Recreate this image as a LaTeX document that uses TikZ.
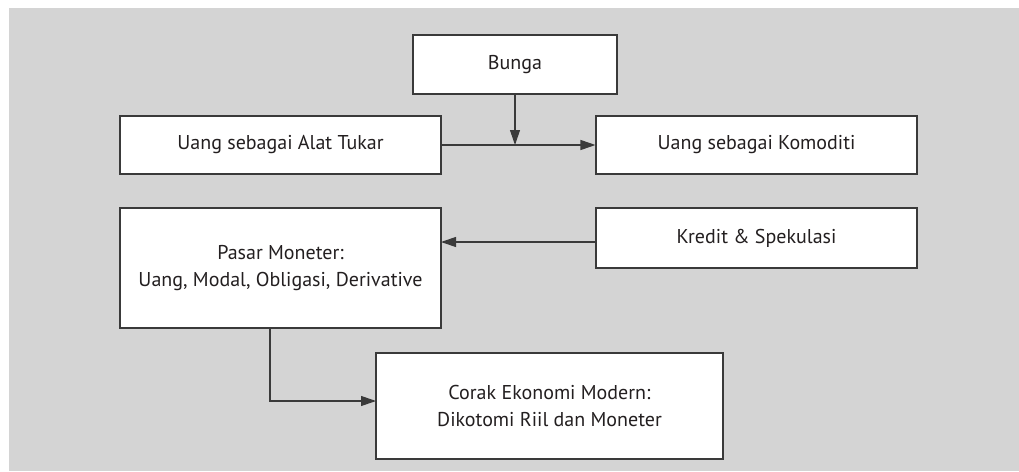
\documentclass[tikz,border=0pt]{standalone}
\usepackage{fontspec}
\setmainfont{PT Sans}
\usetikzlibrary{arrows.meta}
\definecolor{bg}{HTML}{D4D4D4}
\definecolor{edge}{HTML}{3A3A3A}
\definecolor{txt}{HTML}{231F20}
\tikzset{
  box/.style={draw=edge, line width=1.1pt, fill=white, text=txt, align=center, inner sep=0pt,
    font=\fontsize{20}{27}\selectfont},
  conn/.style={draw=edge, line width=1.1pt, -{Triangle[length=15pt,width=10pt]}}
}
\begin{document}
\begin{tikzpicture}[x=1pt,y=-1pt]
\useasboundingbox (0,0) rectangle (1019,471);
\fill[bg] (9,8) rectangle (1019,471);
\node[box, minimum width=204pt, minimum height=59pt] (bunga) at (515,64.5) {Bunga};
\node[box, minimum width=321pt, minimum height=58pt] (alat) at (280.5,145) {Uang sebagai Alat Tukar};
\node[box, minimum width=321pt, minimum height=58pt] (komo) at (756.5,145) {Uang sebagai Komoditi};
\node[box, minimum width=321pt, minimum height=120pt] (pasar) at (280.5,268) {Pasar Moneter:\\Uang, Modal, Obligasi, Derivative};
\node[box, minimum width=321pt, minimum height=60pt] (kredit) at (756.5,238) {Kredit \& Spekulasi};
\node[box, minimum width=347pt, minimum height=106pt] (corak) at (549.5,406) {Corak Ekonomi Modern:\\Dikotomi Riil dan Moneter};
\coordinate (mid) at (515,145);
\coordinate (kr) at (596,242);
\coordinate (pk) at (441,242);
\coordinate (ps) at (270,328);
\coordinate (pc) at (270,401);
\coordinate (cw) at (376,401);
\draw[conn] (alat.east) -- (komo.west);
\draw[conn] (bunga.south) -- (mid);
\draw[conn] (kr) -- (pk);
\draw[conn] (ps) -- (pc) -- (cw);
\end{tikzpicture}
\end{document}
